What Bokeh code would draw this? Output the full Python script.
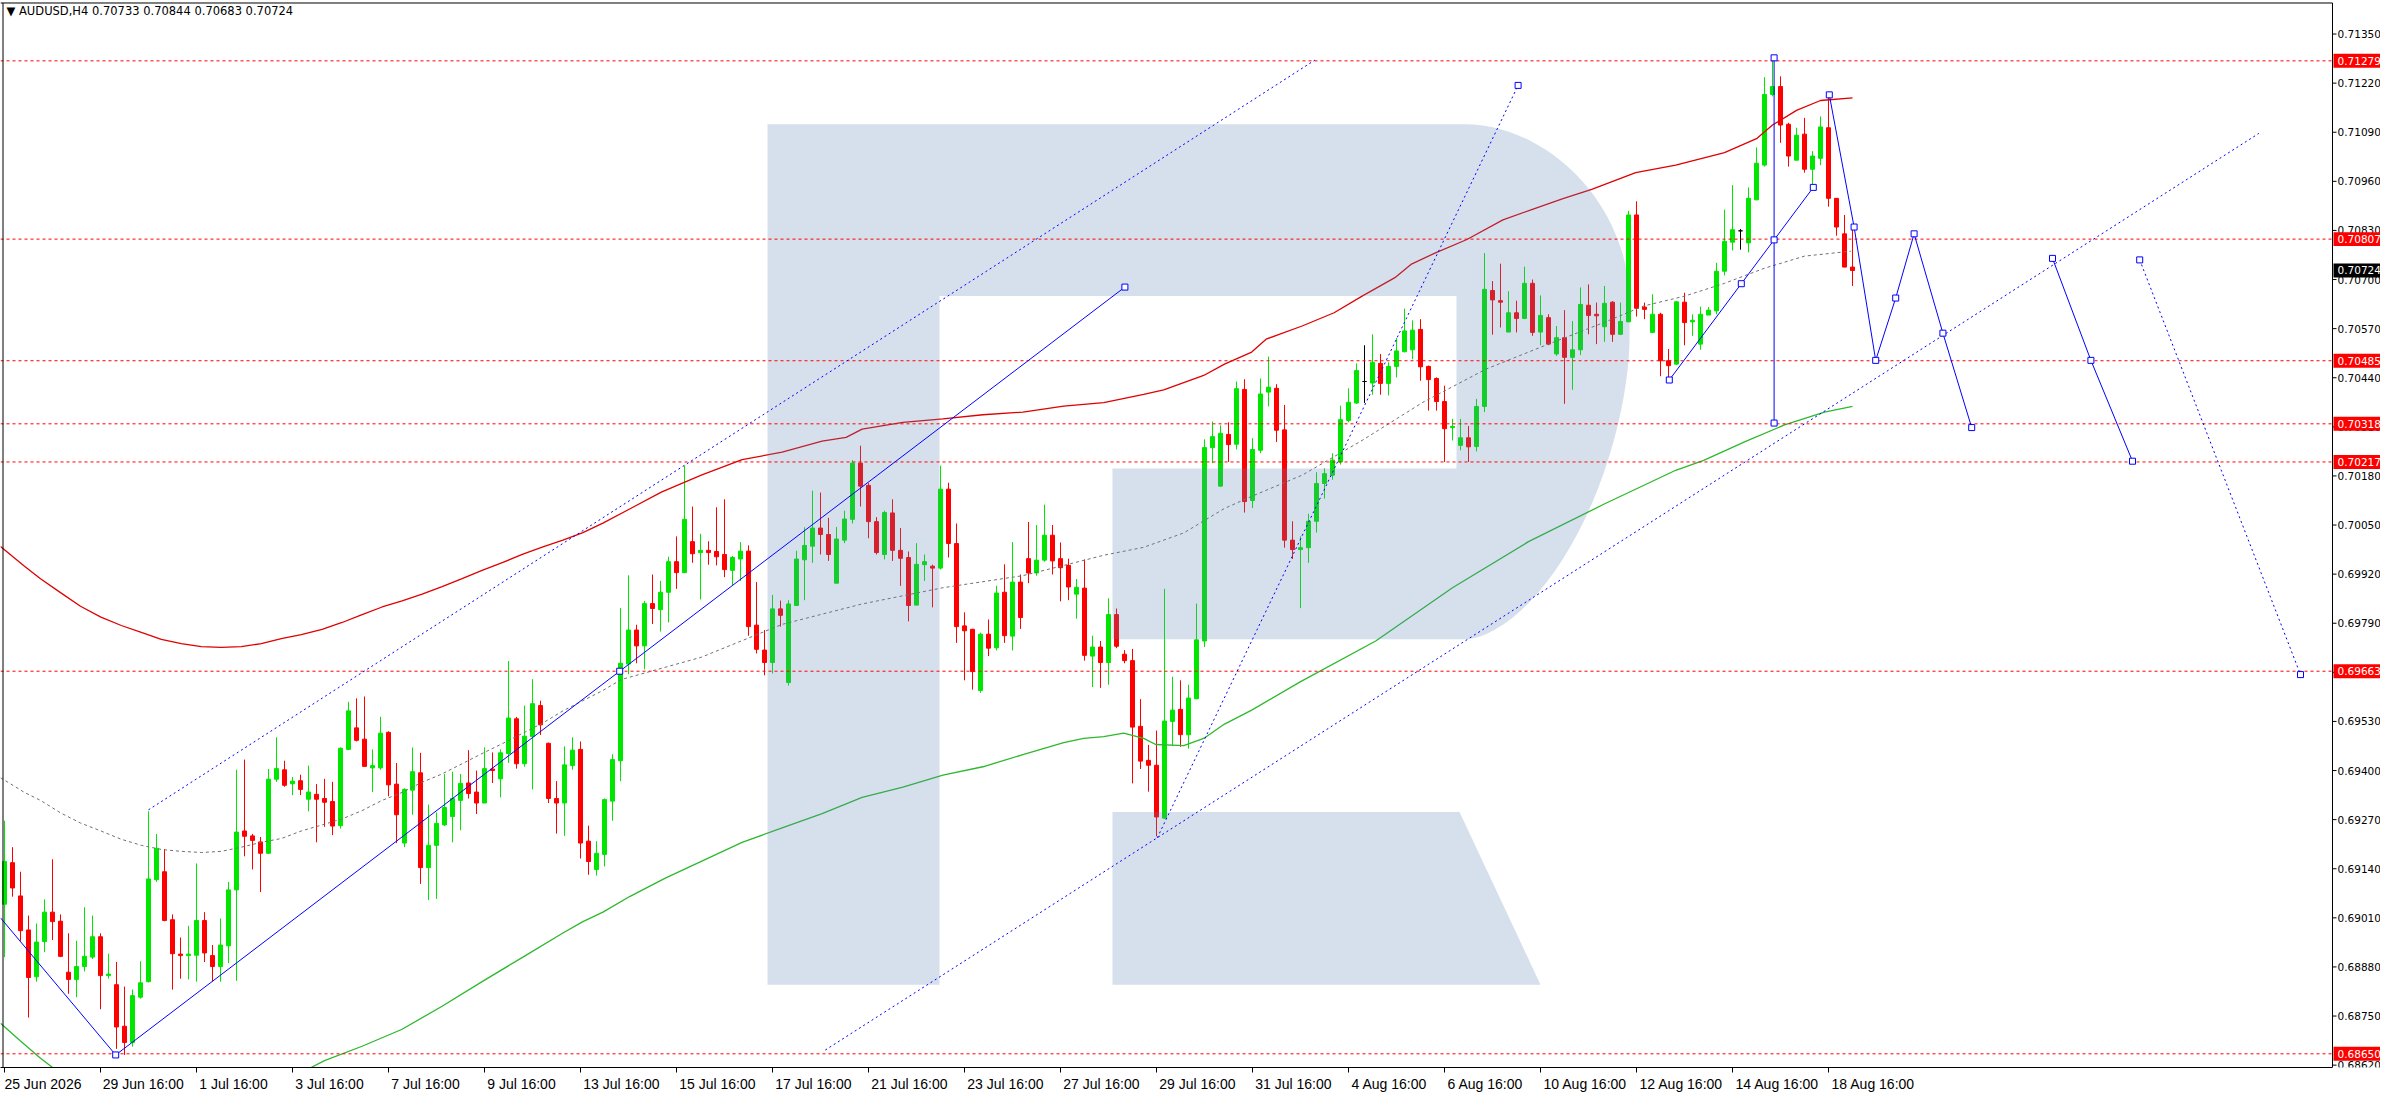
import numpy as np
from bokeh.plotting import figure
from bokeh.models import (ColumnDataSource, LinearAxis, FixedTicker, CustomJSTickFormatter,
                          Range1d, AllLabels)
from bokeh.embed import file_html
from bokeh.resources import INLINE
from bokeh.core.properties import value

# ---------------- data ----------------
header_text = "\u25BC AUDUSD,H4  0.70733 0.70844 0.70683 0.70724"

opens = [
 0.69046,0.69156,0.69068,0.68978,0.68854,0.68947,0.69025,0.69001,0.68866,0.68847,
 0.68881,0.68906,0.68960,0.68857,0.68833,0.68723,0.68680,0.68800,0.68841,0.69111,
 0.69132,0.69005,0.68914,0.68910,0.68911,0.69003,0.68910,0.68881,0.68936,0.69084,
 0.69240,0.69227,0.69211,0.69181,0.69377,0.69402,0.69365,0.69373,0.69324,0.69337,
 0.69326,0.69318,0.69254,0.69456,0.69513,0.69483,0.69407,0.69407,0.69501,0.69364,
 0.69208,0.69348,0.69394,0.69143,0.69202,0.69256,0.69278,0.69321,0.69367,0.69343,
 0.69314,0.69404,0.69378,0.69445,0.69537,0.69418,0.69490,0.69572,0.69472,0.69326,
 0.69314,0.69413,0.69456,0.69213,0.69138,0.69178,0.69319,0.69426,0.69682,0.69772,
 0.69730,0.69842,0.69826,0.69872,0.69953,0.69924,0.70006,0.69977,0.69983,0.69980,
 0.69972,0.69930,0.69960,0.69981,0.69785,0.69719,0.69686,0.69828,0.69633,0.69837,
 0.69958,0.69994,0.70042,0.70025,0.69896,0.70010,0.70065,0.70214,0.70155,0.70059,
 0.69972,0.70082,0.69983,0.69964,0.69838,0.69945,0.69941,0.69936,0.70145,0.70001,
 0.69783,0.69774,0.69612,0.69761,0.69725,0.69872,0.69756,0.69899,0.69961,0.69923,
 0.69957,0.70023,0.69961,0.69943,0.69867,0.69883,0.69703,0.69727,0.69686,0.69813,
 0.69708,0.69691,0.69517,0.69427,0.69414,0.69274,0.69530,0.69562,0.69495,0.69590,
 0.69743,0.70255,0.70153,0.70290,0.70264,0.70409,0.70115,0.70248,0.70402,0.70412,
 0.70302,0.70010,0.69985,0.69990,0.70060,0.70160,0.70182,0.70217,0.70327,0.70373,
 0.70430,0.70426,0.70478,0.70425,0.70470,0.70509,0.70514,0.70568,0.70470,0.70438,
 0.70377,0.70308,0.70261,0.70281,0.70258,0.70364,0.70671,0.70644,0.70561,0.70612,
 0.70597,0.70690,0.70561,0.70599,0.70503,0.70546,0.70494,0.70514,0.70632,0.70608,
 0.70575,0.70640,0.70555,0.70588,0.70871,0.70627,0.70560,0.70608,0.70485,0.70476,
 0.70640,0.70588,0.70529,0.70606,0.70617,0.70722,0.70799,0.70829,0.70797,0.70911,
 0.71003,0.71190,0.71211,0.71111,0.71016,0.71085,0.70992,0.71021,0.71102,0.70915,
 0.70821,0.70733]
highs = [
 0.69267,0.69197,0.69132,0.69016,0.68995,0.69059,0.69165,0.69019,0.68969,0.68949,
 0.69038,0.69016,0.68969,0.68915,0.68893,0.68828,0.68820,0.68895,0.69292,0.69232,
 0.69192,0.69019,0.68958,0.68989,0.69154,0.69025,0.68938,0.69008,0.69105,0.69402,
 0.69429,0.69232,0.69224,0.69404,0.69488,0.69426,0.69383,0.69389,0.69413,0.69364,
 0.69378,0.69370,0.69461,0.69582,0.69591,0.69596,0.69456,0.69542,0.69504,0.69420,
 0.69353,0.69461,0.69447,0.69310,0.69289,0.69391,0.69397,0.69391,0.69454,0.69400,
 0.69461,0.69448,0.69456,0.69690,0.69542,0.69572,0.69642,0.69585,0.69474,0.69372,
 0.69464,0.69488,0.69477,0.69254,0.69213,0.69326,0.69443,0.69830,0.69917,0.69786,
 0.69849,0.69919,0.69902,0.69966,0.70020,0.70207,0.70099,0.70027,0.70007,0.70097,
 0.70118,0.69968,0.70005,0.69996,0.69899,0.69772,0.69865,0.69850,0.69851,0.69982,
 0.70044,0.70141,0.70136,0.70069,0.70045,0.70088,0.70222,0.70260,0.70161,0.70071,
 0.70088,0.70118,0.70042,0.69980,0.70002,0.69972,0.69945,0.70207,0.70162,0.70054,
 0.69819,0.69775,0.69765,0.69800,0.69889,0.69946,0.70005,0.69919,0.70058,0.70050,
 0.70104,0.70050,0.70004,0.69961,0.69907,0.69959,0.69757,0.69743,0.69856,0.69829,
 0.69719,0.69722,0.69589,0.69468,0.69506,0.69881,0.69648,0.69639,0.69627,0.69842,
 0.70277,0.70324,0.70314,0.70322,0.70430,0.70436,0.70280,0.70438,0.70496,0.70423,
 0.70368,0.70060,0.70020,0.70080,0.70190,0.70200,0.70240,0.70366,0.70412,0.70478,
 0.70526,0.70555,0.70503,0.70481,0.70545,0.70623,0.70592,0.70595,0.70472,0.70441,
 0.70419,0.70331,0.70331,0.70312,0.70384,0.70770,0.70696,0.70742,0.70669,0.70644,
 0.70734,0.70700,0.70658,0.70608,0.70577,0.70619,0.70590,0.70679,0.70687,0.70639,
 0.70683,0.70643,0.70639,0.70882,0.70907,0.70639,0.70661,0.70612,0.70516,0.70643,
 0.70665,0.70608,0.70628,0.70627,0.70744,0.70885,0.70950,0.70834,0.70944,0.71050,
 0.71236,0.71282,0.71238,0.71115,0.71102,0.71128,0.71040,0.71132,0.71189,0.70915,
 0.70871,0.70844]
lows = [
 0.68906,0.69066,0.68949,0.68746,0.68841,0.68919,0.68951,0.68906,0.68809,0.68800,
 0.68868,0.68901,0.68768,0.68849,0.68663,0.68647,0.68669,0.68796,0.68839,0.69105,
 0.69001,0.68820,0.68849,0.68847,0.68841,0.68893,0.68841,0.68841,0.68890,0.68843,
 0.69173,0.69138,0.69078,0.69179,0.69370,0.69357,0.69335,0.69335,0.69292,0.69210,
 0.69251,0.69229,0.69246,0.69454,0.69477,0.69411,0.69343,0.69402,0.69332,0.69208,
 0.69197,0.69283,0.69100,0.69057,0.69060,0.69253,0.69210,0.69242,0.69326,0.69285,
 0.69314,0.69367,0.69329,0.69420,0.69405,0.69410,0.69350,0.69494,0.69314,0.69233,
 0.69227,0.69402,0.69167,0.69124,0.69122,0.69146,0.69267,0.69372,0.69655,0.69684,
 0.69668,0.69788,0.69768,0.69792,0.69881,0.69924,0.69950,0.69853,0.69945,0.69943,
 0.69912,0.69891,0.69902,0.69757,0.69710,0.69652,0.69657,0.69781,0.69625,0.69837,
 0.69851,0.69950,0.69972,0.69955,0.69896,0.70002,0.70054,0.70099,0.70015,0.69972,
 0.69959,0.69955,0.69889,0.69795,0.69838,0.69902,0.69832,0.69932,0.69964,0.69738,
 0.69639,0.69614,0.69606,0.69703,0.69718,0.69738,0.69718,0.69775,0.69896,0.69916,
 0.69953,0.69919,0.69848,0.69851,0.69802,0.69691,0.69621,0.69619,0.69627,0.69724,
 0.69684,0.69366,0.69404,0.69344,0.69226,0.69272,0.69466,0.69463,0.69458,0.69589,
 0.69727,0.70214,0.70151,0.70217,0.70250,0.70083,0.70095,0.70240,0.70364,0.70270,
 0.69990,0.69960,0.69830,0.69950,0.70030,0.70120,0.70170,0.70210,0.70322,0.70371,
 0.70373,0.70395,0.70395,0.70393,0.70441,0.70507,0.70489,0.70432,0.70353,0.70353,
 0.70217,0.70274,0.70248,0.70217,0.70245,0.70349,0.70554,0.70573,0.70561,0.70560,
 0.70595,0.70551,0.70526,0.70526,0.70498,0.70371,0.70408,0.70500,0.70555,0.70529,
 0.70535,0.70535,0.70553,0.70588,0.70602,0.70595,0.70558,0.70444,0.70434,0.70474,
 0.70526,0.70551,0.70514,0.70606,0.70608,0.70711,0.70777,0.70779,0.70772,0.70911,
 0.70999,0.71185,0.71062,0.70999,0.71016,0.70983,0.70946,0.71003,0.70893,0.70816,
 0.70733,0.70683]
closes = [
 0.69159,0.69089,0.68976,0.68852,0.68946,0.69025,0.69000,0.68908,0.68847,0.68881,
 0.68908,0.68960,0.68857,0.68861,0.68721,0.68680,0.68804,0.68838,0.69113,0.69194,
 0.69003,0.68915,0.68910,0.68914,0.69003,0.68917,0.68881,0.68938,0.69084,0.69237,
 0.69226,0.69215,0.69181,0.69377,0.69405,0.69361,0.69372,0.69350,0.69343,0.69324,
 0.69316,0.69253,0.69459,0.69558,0.69480,0.69411,0.69413,0.69499,0.69362,0.69283,
 0.69350,0.69397,0.69143,0.69202,0.69260,0.69302,0.69326,0.69366,0.69339,0.69314,
 0.69405,0.69400,0.69447,0.69539,0.69418,0.69491,0.69577,0.69521,0.69326,0.69314,
 0.69415,0.69454,0.69208,0.69159,0.69181,0.69323,0.69429,0.69684,0.69772,0.69730,
 0.69842,0.69829,0.69872,0.69953,0.69924,0.70065,0.69974,0.69983,0.69977,0.69966,
 0.69932,0.69964,0.69981,0.69781,0.69721,0.69686,0.69828,0.69811,0.69841,0.69960,
 0.69996,0.70042,0.70025,0.69972,0.70013,0.70066,0.70214,0.70153,0.70059,0.69977,
 0.70083,0.69983,0.69962,0.69837,0.69946,0.69953,0.69936,0.70145,0.70001,0.69781,
 0.69770,0.69662,0.69761,0.69724,0.69870,0.69757,0.69899,0.69805,0.69923,0.69957,
 0.70023,0.69955,0.69937,0.69886,0.69885,0.69705,0.69727,0.69686,0.69813,0.69729,
 0.69691,0.69515,0.69425,0.69414,0.69277,0.69531,0.69560,0.69495,0.69592,0.69746,
 0.70255,0.70284,0.70293,0.70263,0.70411,0.70112,0.70250,0.70397,0.70415,0.70301,
 0.70010,0.69985,0.69990,0.70060,0.70160,0.70186,0.70222,0.70329,0.70375,0.70459,
 0.70430,0.70481,0.70425,0.70470,0.70511,0.70564,0.70566,0.70469,0.70435,0.70377,
 0.70305,0.70311,0.70281,0.70257,0.70364,0.70674,0.70646,0.70640,0.70612,0.70597,
 0.70690,0.70560,0.70605,0.70529,0.70546,0.70494,0.70514,0.70634,0.70605,0.70604,
 0.70637,0.70555,0.70589,0.70871,0.70624,0.70621,0.70608,0.70485,0.70472,0.70641,
 0.70586,0.70592,0.70608,0.70619,0.70722,0.70801,0.70832,0.70829,0.70915,0.71008,
 0.71190,0.71211,0.71109,0.71027,0.71082,0.70992,0.71027,0.71104,0.70915,0.70839,
 0.70733,0.70724]

tick_bars = [0, 12, 24, 36, 48, 60, 72, 84, 96, 108, 120, 132, 144, 156, 168, 180, 192, 204, 216, 228]
tick_labels = ["25 Jun 2026", "29 Jun 16:00", "1 Jul 16:00", "3 Jul 16:00", "7 Jul 16:00",
               "9 Jul 16:00", "13 Jul 16:00", "15 Jul 16:00", "17 Jul 16:00", "21 Jul 16:00",
               "23 Jul 16:00", "27 Jul 16:00", "29 Jul 16:00", "31 Jul 16:00", "4 Aug 16:00",
               "6 Aug 16:00", "10 Aug 16:00", "12 Aug 16:00", "14 Aug 16:00", "18 Aug 16:00"]
price_ticks = [0.68620, 0.68750, 0.68880, 0.69010, 0.69140, 0.69270, 0.69400, 0.69530, 0.69660,
               0.69790, 0.69920, 0.70050, 0.70180, 0.70310, 0.70440, 0.70570, 0.70700, 0.70830,
               0.70960, 0.71090, 0.71220, 0.71350]

levels = [0.71279, 0.70807, 0.70485, 0.70318, 0.70217, 0.69663, 0.68650]
current_price = 0.70724

red_ma_x = [-0.5, 2.5, 4.5, 7.0, 9.5, 12.05, 14.6, 17.1, 19.6, 22.1, 24.6, 27.1, 29.6, 32.1, 34.6,
            37.1, 39.7, 42.2, 44.7, 47.2, 49.7, 52.2, 54.7, 57.2, 59.7, 62.3, 64.8, 67.3, 69.8, 72.3,
            74.8, 78.2, 82.1, 87.1, 92.2, 97.2, 102.2, 105.2, 107.2, 112.3, 117.3, 122.3, 127.3,
            132.4, 137.4, 142.4, 144.9, 149.9, 152.5, 155.9, 157.7, 162.2, 166.2, 169.7, 173.8,
            175.8, 178.8, 182.8, 187.3, 190.9, 194.9, 198.4, 203.9, 208.9, 215.0, 219.0, 221.0,
            224.0, 227.0, 231.0]
red_ma_y = [0.69993, 0.69941, 0.69908, 0.69871, 0.69835, 0.69806, 0.69784, 0.69766, 0.69747, 0.69736,
            0.69728, 0.69726, 0.69728, 0.69736, 0.69749, 0.69760, 0.69774, 0.69792, 0.69813, 0.69833,
            0.69849, 0.69867, 0.69887, 0.69908, 0.69930, 0.69951, 0.69973, 0.69992, 0.70010, 0.70030,
            0.70055, 0.70093, 0.70137, 0.70182, 0.70223, 0.70243, 0.70272, 0.70282, 0.70304, 0.70322,
            0.70331, 0.70342, 0.70349, 0.70365, 0.70374, 0.70396, 0.70408, 0.70446, 0.70476, 0.70508,
            0.70542, 0.70577, 0.70612, 0.70656, 0.70705, 0.70740, 0.70770, 0.70806, 0.70858, 0.70885,
            0.70915, 0.70939, 0.70983, 0.71003, 0.71036, 0.71073, 0.71109, 0.71148, 0.71174, 0.71181]

green_ma_x = [-0.5, 2.0, 4.5, 7.8, np.nan, 35.7, 40.0, 44.7, 49.7, 54.7, 59.7, 64.8, 69.8, 72.3,
              74.8, 78.2, 82.6, 92.2, 97.2, 102.2, 107.2, 112.3, 117.3, 122.3, 127.3, 132.4, 134.9,
              137.4, 139.9, 142.4, 143.9, 147.4, 149.9, 152.5, 155.9, 161.9, 171.4, 181.0, 190.5,
              200.1, 205.4, 208.9, 212.4, 217.5, 222.5, 227.5, 231.0]
green_ma_y = [0.68731, 0.68684, 0.68638, 0.68585, np.nan, 0.68585, 0.68632, 0.68670, 0.68715,
              0.68776, 0.68841, 0.68906, 0.68970, 0.69000, 0.69025, 0.69067, 0.69115, 0.69210,
              0.69248, 0.69286, 0.69329, 0.69356, 0.69388, 0.69410, 0.69442, 0.69474, 0.69485,
              0.69490, 0.69499, 0.69485, 0.69469, 0.69466, 0.69485, 0.69523, 0.69560, 0.69634,
              0.69743, 0.69884, 0.70006, 0.70107, 0.70160, 0.70195, 0.70221, 0.70270, 0.70315,
              0.70349, 0.70364]

gray_ma_x = [-0.5, 2.5, 4.5, 7.0, 9.5, 12.05, 14.6, 17.1, 19.6, 22.1, 24.6, 27.1, 29.6, 32.1, 34.6,
             37.1, 39.7, 42.2, 44.7, 47.2, 49.7, 52.2, 54.7, 57.2, 59.7, 62.3, 64.8, 67.3, 69.8,
             72.3, 74.8, 77.1, 87.1, 97.2, 107.2, 117.3, 127.3, 132.4, 137.4, 142.4, 147.4, 152.5,
             155.9, 162.2, 169.7, 177.3, 185.2, 192.4, 199.9, 204.9, 210.0, 215.0, 220.0, 225.0, 230.8]
gray_ma_y = [0.69381, 0.69342, 0.69321, 0.69288, 0.69261, 0.69240, 0.69218, 0.69202, 0.69191,
             0.69186, 0.69183, 0.69186, 0.69197, 0.69210, 0.69220, 0.69240, 0.69256, 0.69272,
             0.69294, 0.69321, 0.69342, 0.69369, 0.69391, 0.69418, 0.69445, 0.69472, 0.69499,
             0.69526, 0.69558, 0.69585, 0.69612, 0.69641, 0.69700, 0.69787, 0.69841, 0.69884,
             0.69916, 0.69943, 0.69970, 0.69991, 0.70029, 0.70094, 0.70126, 0.70182, 0.70274,
             0.70375, 0.70463, 0.70524, 0.70586, 0.70630, 0.70656, 0.70690, 0.70730, 0.70762, 0.70775]

zig_a_x = [-0.5, 13.9, 76.9, 140.05]
zig_a_y = [0.69010, 0.68647, 0.69663, 0.70680]
chan_up_x = [18.0, 163.8]
chan_up_y = [0.69296, 0.71281]
chan_lo_x = [102.6, 281.8]
chan_lo_y = [0.68660, 0.71087]
steep_x = [144.1, 189.2]
steep_y = [0.69222, 0.71214]
zig_e_x = [208.1, 217.1, 221.2, 226.1]
zig_e_y = [0.70434, 0.70689, 0.70805, 0.70944]
vert_x = [221.2, 221.2]
vert_y = [0.71287, 0.70320]
zig_g_x = [228.1, 231.2, 233.9, 236.4, 238.7, 242.3, 245.9]
zig_g_y = [0.71189, 0.70839, 0.70486, 0.70651, 0.70821, 0.70558, 0.70308]
zig_h_x = [256.0, 260.8, 266.0]
zig_h_y = [0.70756, 0.70486, 0.70219]
dot_i_x = [266.9, 287.0]
dot_i_y = [0.70752, 0.69654]

# ---------------- layout (pixels from the picture's top-left) ----------------
FIG_W, FIG_H = 2380, 1094
BOTTOM = 25                       # space for the time axis
PX_BAR = 8.0

def px_bar(px):                   # pixel column -> bar index
    return (px - 4.0) / PX_BAR

def px_price(py):                 # pixel row -> price
    return 0.71350 - (py - 33.6) / 37840.0

X0, X_END = px_bar(0), px_bar(FIG_W)
X_AX = px_bar(2332)               # price-axis line
Y1, Y0 = px_price(0), px_price(FIG_H - BOTTOM)
PX_PRICE = 1.0 / 37840.0

def corner(cx, cy, ax, ay, n, t0, t1, k=28):
    pts = []
    for t in np.linspace(t0, t1, k):
        c, s = np.cos(t), np.sin(t)
        pts.append((cx + ax * np.sign(c) * abs(c) ** (2.0 / n),
                    cy - ay * np.sign(s) * abs(s) ** (2.0 / n)))
    return pts

body = [(767, 124), (1465, 124)]
body += corner(1465, 300, 164, 176, 1.9, np.pi / 2, 0)
body += corner(1465, 340, 164, 300, 1.7, 0, -np.pi / 2)
body += [(1112, 640), (1112, 469), (1456, 469), (1456, 296), (939, 296), (939, 986), (767, 986)]
leg = [(1112, 813), (1459, 813), (1540, 986), (1112, 986)]
wm_xs = [[px_bar(a) for a, b in body], [px_bar(a) for a, b in leg]]
wm_ys = [[px_price(b) for a, b in body], [px_price(b) for a, b in leg]]

# ---------------- figure ----------------
p = figure(width=FIG_W, height=FIG_H, x_range=Range1d(X0, X_END), y_range=Range1d(Y0, Y1),
           output_backend="svg", toolbar_location=None,
           x_axis_location=None, y_axis_location=None,
           min_border_left=0, min_border_top=0, min_border_right=0, min_border_bottom=BOTTOM)
p.outline_line_color = None
p.background_fill_color = "white"
p.border_fill_color = "white"
p.xgrid.visible = False
p.ygrid.visible = False

# candles
n = len(opens)
cols = ["#00E600" if c > o else ("#FF0000" if c < o else "#000000") for o, c in zip(opens, closes)]
src = ColumnDataSource(dict(x=list(range(n)), top=[max(o, c) for o, c in zip(opens, closes)],
                            bottom=[min(o, c) for o, c in zip(opens, closes)],
                            high=highs, low=lows, color=cols))
p.segment(x0="x", y0="low", x1="x", y1="high", line_color="color", line_width=1, source=src)
p.vbar(x="x", width=0.5, top="top", bottom="bottom", fill_color="color", line_color="color",
       line_width=1, source=src)

# moving averages
p.line(red_ma_x, red_ma_y, line_color="#E00000", line_width=1.3)
p.line(green_ma_x, green_ma_y, line_color="#2DB82D", line_width=1.3)
p.line(gray_ma_x, gray_ma_y, line_color="#707070", line_width=1, line_dash="3 3")

# watermark
p.patches(wm_xs, wm_ys, fill_color="#5783B3", fill_alpha=0.25, line_color=None)

# horizontal levels (up to the price axis)
p.segment(x0=[X0] * len(levels), y0=levels, x1=[X_AX] * len(levels), y1=levels,
          line_color="#FF0000", line_width=1, line_dash="3 3")

# analysis objects
BLUE = "#0000FF"
p.line(zig_a_x, zig_a_y, line_color=BLUE, line_width=1)
p.line(chan_up_x, chan_up_y, line_color=BLUE, line_width=1, line_dash="2 3")
p.line(chan_lo_x, chan_lo_y, line_color=BLUE, line_width=1, line_dash="2 3")
p.line(steep_x, steep_y, line_color=BLUE, line_width=1, line_dash="2 3")
p.line(zig_e_x, zig_e_y, line_color=BLUE, line_width=1)
p.line(vert_x, vert_y, line_color=BLUE, line_width=1)
p.line(zig_g_x, zig_g_y, line_color=BLUE, line_width=1)
p.line(zig_h_x, zig_h_y, line_color=BLUE, line_width=1)
p.line(dot_i_x, dot_i_y, line_color=BLUE, line_width=1, line_dash="2 3")
mk_x = zig_a_x[1:] + [steep_x[1]] + zig_e_x + vert_x + zig_g_x + zig_h_x + dot_i_x
mk_y = zig_a_y[1:] + [steep_y[1]] + zig_e_y + vert_y + zig_g_y + zig_h_y + dot_i_y
p.scatter(mk_x, mk_y, marker="square", size=6, fill_color="white", line_color=BLUE, line_width=1)

# chart frame: top, left and the price-axis line
p.segment(x0=[X0, px_bar(2.5), X_AX], y0=[px_price(2.5), Y0, Y0],
          x1=[X_AX, px_bar(2.5), X_AX], y1=[px_price(2.5), px_price(2.5), px_price(2.5)],
          line_color="black", line_width=1)

# price scale: ticks, labels, level boxes
nt = len(price_ticks)
p.segment(x0=[X_AX] * nt, y0=price_ticks, x1=[px_bar(2336)] * nt, y1=price_ticks,
          line_color="black", line_width=1)
p.text(x=[px_bar(2337)] * nt, y=price_ticks, text=[f"{t:.5f}" for t in price_ticks],
       text_baseline="middle", text_align="left", text_color="black",
       text_font=value("DejaVu Sans"), text_font_size=value("10.5px"))
box_vals = levels + [current_price]
box_cols = ["#FF0000"] * len(levels) + ["#000000"]
box_h = 7 * PX_PRICE
p.quad(left=[px_bar(2333)] * len(box_vals), right=[X_END] * len(box_vals),
       top=[v + box_h for v in box_vals], bottom=[v - box_h for v in box_vals],
       fill_color=box_cols, line_color=None)
p.text(x=[px_bar(2337)] * len(box_vals), y=box_vals, text=[f"{v:.5f}" for v in box_vals],
       text_baseline="middle", text_align="left", text_color="white",
       text_font=value("DejaVu Sans"), text_font_size=value("10.5px"))

# header
p.text(x=[px_bar(6)], y=[px_price(4)], text=[header_text], text_baseline="top",
       text_align="left", text_color="black", text_font=value("DejaVu Sans"),
       text_font_size=value("11.5px"))

# time axis: tick marks at the labelled bars, label text starting just right of each tick
XFS = 14
CW = {c: 0.556 for c in "0123456789"}
CW.update({" ": 0.278, ":": 0.278, "J": 0.5, "u": 0.556, "n": 0.556, "l": 0.222, "A": 0.667, "g": 0.556})
NBSP = "\u00A0"
shown = []
for j, s in enumerate(tick_labels):
    if j == 0:                   # first label sits against the left edge
        shown.append(NBSP + s)
        continue
    w = XFS * sum(CW.get(ch, 0.55) for ch in s)
    k = int(round((w + 6) / (0.278 * XFS)))
    shown.append(NBSP * k + s)
time_axis = LinearAxis(ticker=FixedTicker(ticks=tick_bars, minor_ticks=[]),
                       formatter=CustomJSTickFormatter(args=dict(t=tick_bars, labs=shown), code="""
let best = 0, bd = 1e9;
for (let j = 0; j < t.length; j++) { const d = Math.abs(t[j] - tick); if (d < bd) { bd = d; best = j; } }
return labs[best];"""))
time_axis.bounds = (X0, X_AX)
time_axis.major_label_policy = AllLabels()
time_axis.axis_line_color = "black"
time_axis.major_tick_out = 5
time_axis.major_tick_in = 0
time_axis.major_tick_line_color = "black"
time_axis.minor_tick_line_color = None
time_axis.major_label_standoff = 3
time_axis.major_label_text_font = "Liberation Sans"
time_axis.major_label_text_font_size = f"{XFS}px"
time_axis.major_label_text_color = "black"
p.add_layout(time_axis, "below")

open("out.html", "w").write(file_html(p, INLINE))
